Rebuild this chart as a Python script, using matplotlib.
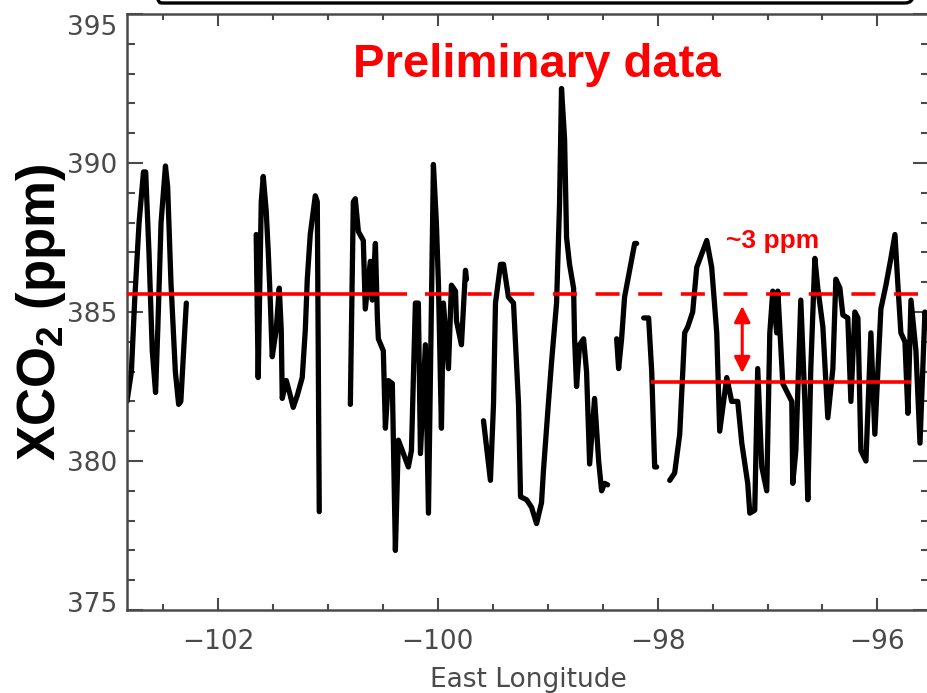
import matplotlib
matplotlib.use("Agg")
import matplotlib.pyplot as plt
import numpy as np
from matplotlib.patches import FancyBboxPatch
from matplotlib.ticker import MultipleLocator
from matplotlib.transforms import IdentityTransform, ScaledTranslation

# XCO2 along-track segments (east longitude, ppm)
seg1_lon = [-102.83, -102.79, -102.76, -102.72, -102.68, -102.66, -102.63, -102.60, -102.57, -102.55,
            -102.52, -102.48, -102.46, -102.43, -102.39, -102.36, -102.34, -102.31, -102.29]
seg1_ppm = [382.0, 383.0, 385.4, 388.0, 389.7, 389.7, 387.0, 383.7, 382.3, 384.4,
            388.0, 389.9, 389.2, 386.0, 383.0, 381.9, 382.0, 384.0, 385.3]

seg2_lon = [-101.654, -101.636, -101.608, -101.590, -101.563, -101.544, -101.526, -101.508, -101.472,
            -101.444, -101.426, -101.417, -101.380, -101.344, -101.317, -101.280, -101.235, -101.207,
            -101.189, -101.162, -101.134, -101.116, -101.098, -101.080]
seg2_ppm = [387.6, 382.8, 388.7, 389.55, 388.4, 387.0, 385.4, 383.5, 384.4,
            385.8, 384.4, 382.1, 382.7, 382.2, 381.8, 382.2, 382.8, 384.4,
            386.1, 387.6, 388.4, 388.9, 388.7, 378.3]

seg3_lon = [-100.797, -100.770, -100.752, -100.724, -100.679, -100.661, -100.615, -100.597, -100.569,
            -100.551, -100.542, -100.497, -100.478, -100.451, -100.415, -100.387, -100.360, -100.314,
            -100.269, -100.241, -100.205, -100.178, -100.159, -100.114, -100.086, -100.041, -100.014,
            -99.995, -99.968, -99.950, -99.904, -99.877, -99.840, -99.831, -99.786, -99.749, -99.740]
seg3_ppm = [381.9, 388.7, 388.8, 387.7, 387.4, 385.1, 386.7, 385.4, 387.3,
            384.8, 384.1, 383.7, 381.1, 382.7, 382.6, 377.0, 380.7, 380.25,
            379.8, 380.35, 385.3, 385.3, 380.25, 383.9, 378.25, 389.95, 388.0,
            385.9, 381.1, 385.3, 383.1, 385.9, 385.7, 384.7, 383.9, 386.4, 386.1]

seg4_lon = [-99.585, -99.522, -99.494, -99.476, -99.430, -99.403, -99.358, -99.312, -99.266, -99.248,
            -99.193, -99.148, -99.102, -99.057, -99.039, -98.993, -98.966, -98.920, -98.893, -98.875,
            -98.847, -98.829, -98.802, -98.765, -98.756, -98.738, -98.710, -98.674, -98.647, -98.619,
            -98.574, -98.537, -98.510, -98.483, -98.455]
seg4_ppm = [381.35, 379.35, 381.9, 385.3, 386.6, 386.6, 385.5, 385.3, 381.9, 378.8,
            378.7, 378.45, 377.9, 378.6, 379.7, 382.0, 383.3, 385.3, 388.6, 392.5,
            390.8, 387.5, 386.6, 385.8, 384.1, 382.5, 383.9, 384.1, 383.0, 379.9,
            382.1, 380.0, 379.0, 379.25, 379.2]

seg5_lon = [-98.373, -98.355, -98.328, -98.301, -98.255, -98.209, -98.191]
seg5_ppm = [384.1, 383.1, 384.1, 385.5, 386.4, 387.3, 387.3]

seg6_lon = [-98.127, -98.082, -98.054, -98.027, -98.009]
seg6_ppm = [384.8, 384.8, 383.0, 379.8, 379.8]

seg7_lon = [-97.890, -97.845, -97.799, -97.754, -97.726, -97.681, -97.644, -97.553, -97.508, -97.462,
            -97.435, -97.371, -97.326, -97.271, -97.234, -97.180, -97.161, -97.116, -97.089, -97.052,
            -97.007, -96.979, -96.952, -96.916, -96.906, -96.861, -96.779, -96.770, -96.742, -96.697,
            -96.660, -96.633, -96.606, -96.569, -96.542, -96.496, -96.451, -96.405, -96.378, -96.341,
            -96.314, -96.269, -96.241, -96.205, -96.177, -96.150, -96.104, -96.059, -96.023, -95.968,
            -95.922, -95.877, -95.840, -95.813, -95.786, -95.749, -95.722, -95.694, -95.649, -95.612,
            -95.567, -95.530]
seg7_ppm = [379.35, 379.6, 380.9, 384.3, 384.5, 385.0, 386.5, 387.4, 386.5, 384.3,
            381.0, 382.8, 382.0, 382.0, 380.6, 379.25, 378.25, 378.35, 383.1, 379.8,
            379.0, 384.3, 385.7, 384.3, 385.7, 382.6, 382.0, 379.25, 380.35, 385.4,
            382.0, 378.7, 383.1, 386.8, 385.8, 384.5, 381.45, 383.1, 386.1, 385.8,
            384.9, 384.8, 382.0, 385.0, 384.8, 380.35, 380.0, 384.3, 380.9, 385.1,
            385.9, 386.8, 387.6, 385.9, 384.3, 384.0, 381.6, 385.4, 383.7, 380.6,
            385.0, 384.3]

segments = [(seg1_lon, seg1_ppm), (seg2_lon, seg2_ppm), (seg3_lon, seg3_ppm), (seg4_lon, seg4_ppm),
            (seg5_lon, seg5_ppm), (seg6_lon, seg6_ppm), (seg7_lon, seg7_ppm)]

# reference levels (ppm) and their extents (longitude)
upper_level = 385.6
upper_solid = (-102.83, -100.28)
upper_dashed = (-100.114, -95.62)
lower_level = 382.65
lower_span = (-98.063, -95.694)
arrow_lon = -97.23
arrow_ppm = (385.2, 382.95)

x_lim = (-102.83, -95.53)
y_lim = (375, 395)

RED = "#ff0000"
GREY = "#4a4a4a"

fig = plt.figure(figsize=(9.28, 6.93), dpi=100)
ax = fig.add_axes([127 / 928, 83 / 693, 802 / 928, 596 / 693])

for lon, ppm in segments:
    ax.plot(lon, ppm, color="black", lw=3.8, solid_joinstyle="round", solid_capstyle="round", zorder=2)

ax.plot(upper_solid, [upper_level, upper_level], color=RED, lw=2.6, solid_capstyle="butt", zorder=3)
ax.plot(upper_dashed, [upper_level, upper_level], color=RED, lw=2.6, dash_capstyle="butt",
        linestyle=(0, (17.3 / 2.6, 13.4 / 2.6)), zorder=3)
ax.plot(lower_span, [lower_level, lower_level], color=RED, lw=2.6, solid_capstyle="butt", zorder=3)
ax.annotate("", xy=(arrow_lon, arrow_ppm[0]), xytext=(arrow_lon, arrow_ppm[1]),
            arrowprops=dict(arrowstyle="<|-|>", color=RED, lw=2.2, mutation_scale=24,
                            shrinkA=0, shrinkB=0), zorder=4)

ax.text(0.511, 0.894, "Preliminary data", transform=ax.transAxes, color=RED,
        fontsize=34, fontweight="bold", family="Liberation Sans", ha="center", va="baseline")
ax.text(-97.38, 387.14, "~3 ppm", color=RED, fontsize=19, fontweight="bold",
        family="Liberation Sans", ha="left", va="baseline")

ax.set_xlim(*x_lim)
ax.set_ylim(*y_lim)
ax.xaxis.set_major_locator(MultipleLocator(2))
ax.xaxis.set_minor_locator(MultipleLocator(0.5))
ax.yaxis.set_major_locator(MultipleLocator(5))
ax.yaxis.set_minor_locator(MultipleLocator(1))

ax.tick_params(which="both", direction="in", top=True, right=True, color=GREY, width=1.5,
               labelsize=19, labelcolor=GREY)
ax.tick_params(axis="x", which="major", length=8.6, pad=14)
ax.tick_params(axis="x", which="minor", length=4.0)
ax.tick_params(axis="y", which="major", length=11.5, pad=7)
ax.tick_params(axis="y", which="minor", length=6.0)
for sp in ax.spines.values():
    sp.set_color(GREY)
    sp.set_linewidth(1.8)

# nudge the end labels inward like the original
fig.canvas.draw()
ylabels = ax.get_yticklabels()
for lab in ylabels:
    if lab.get_text() == "395":
        lab.set_transform(lab.get_transform() + ScaledTranslation(0, -0.11, fig.dpi_scale_trans))
    elif lab.get_text() == "375":
        lab.set_transform(lab.get_transform() + ScaledTranslation(0, 0.08, fig.dpi_scale_trans))

ax.set_xlabel("East Longitude", fontsize=19, color=GREY, va="top")
ax.xaxis.set_label_coords(0.5, -0.0956)

plt.rcParams["mathtext.fontset"] = "custom"
plt.rcParams["mathtext.rm"] = "Liberation Sans:bold"
plt.rcParams["mathtext.it"] = "Liberation Sans:bold"
ax.set_ylabel(r"XCO$_\mathregular{2}$ (ppm)", fontsize=38, fontweight="bold",
              family="Liberation Sans", color="black")
ax.yaxis.set_label_coords(-0.0736, 0.5)

# edge of the box sitting above the plot
fig.add_artist(FancyBboxPatch((153, 690), 760, 80, boxstyle="round,pad=0,rounding_size=8",
                              transform=IdentityTransform(), fill=False, lw=2.4, ec="black"))

fig.savefig("out.png", dpi=100)
